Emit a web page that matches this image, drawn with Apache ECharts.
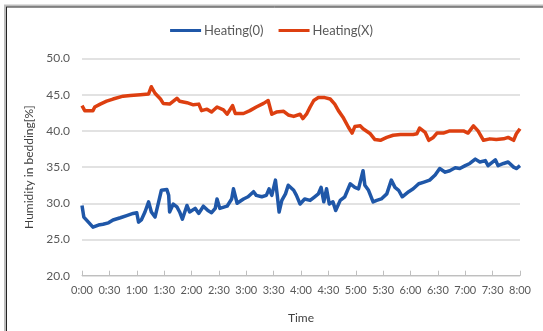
<!DOCTYPE html>
<html>
<head>
<meta charset="utf-8">
<script src="https://cdn.jsdelivr.net/npm/echarts@6/dist/echarts.min.js"></script>
<style>
  html, body { margin: 0; padding: 0; background: #ffffff; }
  #chart { width: 543px; height: 331px; }
</style>
</head>
<body>
<div id="chart"></div>
<script>
// Time axis tick labels (every 30 minutes from 0:00 to 8:00)
const timeTicks = ['0:00','0:30','1:00','1:30','2:00','2:30','3:00','3:30','4:00',
  '4:30','5:00','5:30','6:00','6:30','7:00','7:30','8:00'];
const humidityTicks = [20, 25, 30, 35, 40, 45, 50];

// Heating(0): [minutes since 0:00, humidity %]
const heating0 = [
  [0,29.7],[2,28.1],[7,27.4],[12,26.7],[18,27.0],[23,27.1],[29,27.3],[34,27.7],
  [42,28.0],[49,28.3],[56,28.6],[60,28.7],[62,27.4],[65,27.7],[69,28.8],[73,30.2],
  [76,28.8],[80,28.1],[84,30.2],[87,31.8],[93,31.9],[95,31.1],[96,28.8],[100,29.9],
  [104,29.5],[107,28.8],[110,27.8],[115,29.7],[118,28.8],[124,29.3],[128,28.6],
  [133,29.6],[138,29.0],[142,28.7],[146,29.3],[148,30.6],[151,29.3],[159,29.6],
  [164,30.6],[166,32.0],[170,30.0],[177,30.6],[182,30.9],[188,31.6],[191,31.1],
  [197,30.9],[202,31.1],[205,32.0],[208,31.1],[212,33.2],[214,31.1],[216,28.8],
  [219,30.4],[223,31.3],[226,32.5],[232,31.8],[235,31.1],[239,29.9],[244,30.6],
  [250,30.4],[255,30.9],[259,31.3],[262,32.2],[265,30.2],[268,32.0],[271,29.9],
  [275,30.2],[278,29.0],[283,30.4],[288,30.9],[294,32.7],[299,32.2],[303,32.0],
  [308,34.5],[310,32.5],[314,31.8],[319,30.2],[323,30.4],[328,30.6],[334,31.3],
  [339,33.2],[343,32.2],[347,31.8],[351,30.9],[358,31.6],[363,32.0],[369,32.7],
  [374,32.9],[381,33.2],[387,33.9],[392,34.8],[398,34.3],[403,34.5],[409,34.9],
  [414,34.8],[420,35.2],[425,35.5],[431,36.1],[436,35.7],[442,35.9],[445,35.2],
  [453,36.0],[456,35.2],[462,35.5],[467,35.7],[473,35.0],[476,34.8],[480,35.2]
];

// Heating(X): [minutes since 0:00, humidity %]
const heatingX = [
  [0,43.5],[3,42.8],[12,42.8],[14,43.3],[20,43.7],[27,44.1],[34,44.4],[45,44.8],
  [53,44.9],[64,45.0],[73,45.1],[76,46.1],[80,45.2],[86,44.4],[89,43.8],[96,43.7],
  [104,44.5],[107,44.1],[115,43.9],[122,43.6],[128,43.7],[131,42.8],[137,43.0],
  [142,42.6],[148,43.3],[155,42.9],[159,42.3],[165,43.5],[168,42.4],[177,42.4],
  [184,42.8],[191,43.3],[199,43.8],[204,44.2],[208,42.3],[213,42.6],[221,42.7],
  [226,42.2],[232,42.0],[239,42.3],[242,41.7],[246,42.3],[250,43.3],[254,44.2],
  [259,44.6],[266,44.6],[272,44.4],[277,43.7],[281,42.8],[286,41.9],[292,40.5],
  [296,39.7],[299,40.6],[305,40.7],[308,40.3],[316,39.6],[321,38.8],[327,38.7],
  [334,39.1],[341,39.4],[349,39.5],[363,39.5],[367,39.6],[370,40.4],[376,39.8],
  [380,38.7],[385,39.1],[389,39.7],[396,39.7],[403,40.0],[411,40.0],[418,40.0],
  [423,39.7],[429,40.7],[434,40.0],[440,38.7],[447,38.9],[454,38.8],[462,38.9],
  [467,39.1],[473,38.7],[476,39.6],[480,40.3]
];

const chart = echarts.init(document.getElementById('chart'), null, { renderer: 'canvas' });
const textColor = '#595959';
const fontFamily = 'Lato, "Liberation Sans", sans-serif';

chart.setOption({
  animation: false,
  backgroundColor: '#ffffff',
  textStyle: { fontFamily: fontFamily },
  legend: {
    top: 19,
    left: 'center',
    icon: 'rect',
    itemWidth: 31,
    itemHeight: 3,
    itemGap: 15,
    textStyle: { color: textColor, fontSize: 13, fontFamily: fontFamily, padding: [0, 0, 0, -2] },
    data: ['Heating(0)', 'Heating(X)']
  },
  grid: { left: 82, right: 23, top: 58.5, bottom: 55.3, containLabel: false },
  xAxis: {
    type: 'value',
    min: 0,
    max: 480,
    interval: 30,
    name: 'Time',
    nameLocation: 'middle',
    nameGap: 36,
    nameTextStyle: { color: '#404040', fontSize: 12, fontFamily: fontFamily },
    axisLine: { show: true, lineStyle: { color: '#bfbfbf', width: 1 } },
    axisTick: { show: true, inside: true, length: 5, lineStyle: { color: '#bfbfbf' } },
    axisLabel: {
      color: textColor, fontSize: 11, margin: 9, fontFamily: fontFamily,
      formatter: v => timeTicks[Math.round(v / 30)]
    },
    splitLine: { show: false }
  },
  yAxis: {
    type: 'value',
    min: humidityTicks[0],
    max: humidityTicks[humidityTicks.length - 1],
    interval: 5,
    name: 'Humidity in bedding[%]',
    nameLocation: 'middle',
    nameGap: 43,
    nameRotate: 90,
    nameTextStyle: { color: '#404040', fontSize: 12, fontFamily: fontFamily },
    axisLine: { show: false },
    axisTick: { show: false },
    axisLabel: {
      color: textColor, fontSize: 12, margin: 12, fontFamily: fontFamily,
      formatter: v => v.toFixed(1)
    },
    splitLine: { show: true, lineStyle: { color: '#d9d9d9', width: 1.5 } }
  },
  graphic: [
    { type: 'line', silent: true, shape: { x1: 5, y1: 5, x2: 5, y2: 331 }, style: { stroke: '#bdbdbd', lineWidth: 2 } },
    { type: 'line', silent: true, shape: { x1: 4, y1: 5.5, x2: 543, y2: 5.5 }, style: { stroke: '#bdbdbd', lineWidth: 2 } },
    { type: 'line', silent: true, shape: { x1: 6.5, y1: 7, x2: 6.5, y2: 331 }, style: { stroke: '#222222', lineWidth: 1 } },
    { type: 'line', silent: true, shape: { x1: 6, y1: 7, x2: 543, y2: 7 }, style: { stroke: '#222222', lineWidth: 1 } }
  ],
  series: [
    {
      name: 'Heating(0)',
      type: 'line',
      data: heating0,
      showSymbol: false,
      symbol: 'none',
      color: '#1f57a8',
      lineStyle: { width: 3.5, color: '#1f57a8', join: 'round' }
    },
    {
      name: 'Heating(X)',
      type: 'line',
      data: heatingX,
      showSymbol: false,
      symbol: 'none',
      color: '#dd3f10',
      lineStyle: { width: 3.5, color: '#dd3f10', join: 'round' }
    }
  ]
});
</script>
</body>
</html>
